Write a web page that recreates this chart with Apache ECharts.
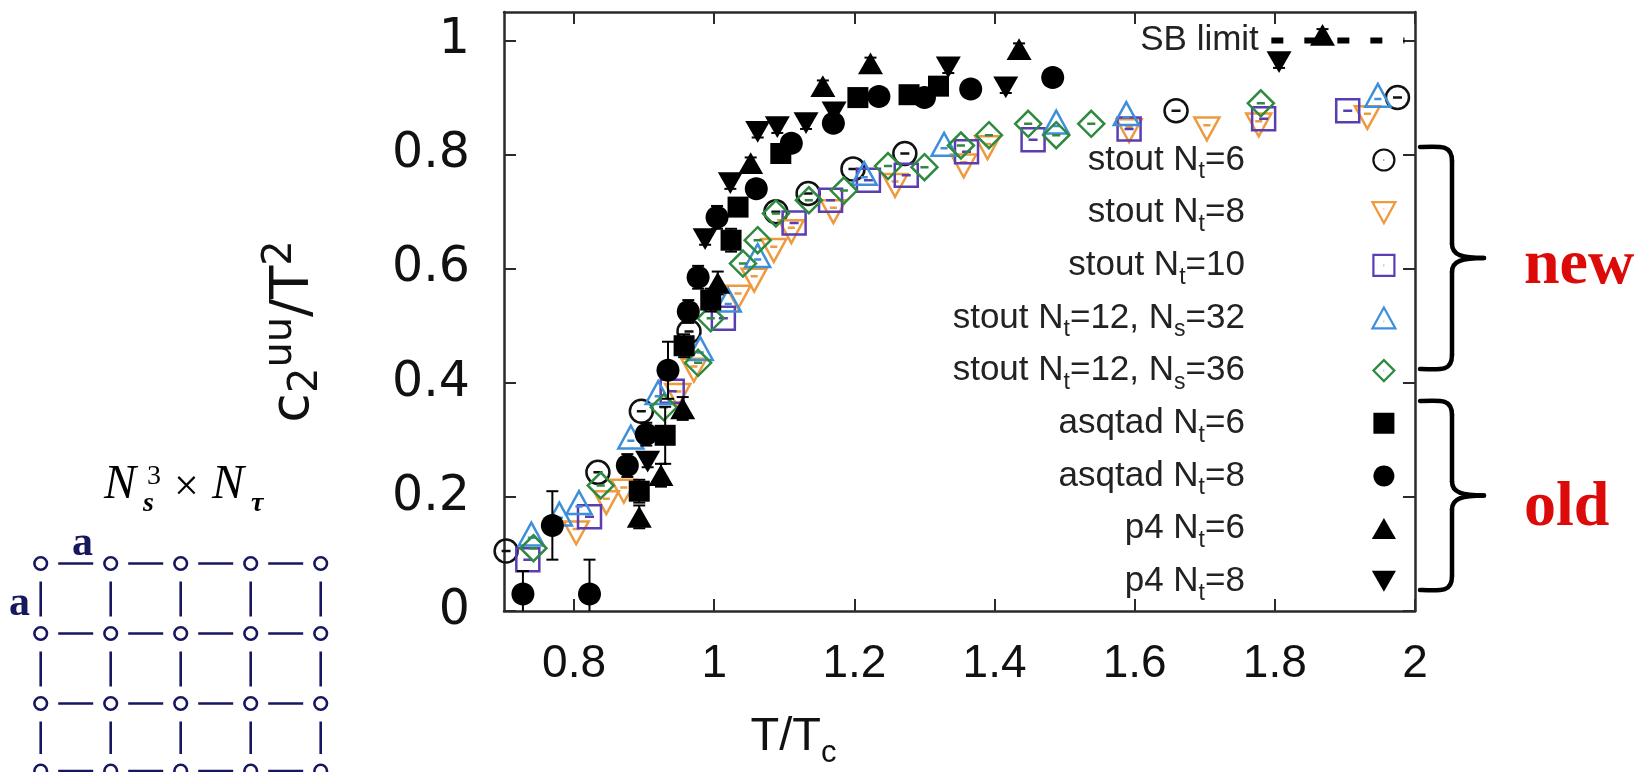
<!DOCTYPE html>
<html>
<head>
<meta charset="utf-8">
<script src="https://cdn.jsdelivr.net/npm/echarts@6/dist/echarts.min.js"></script>
<style>
html,body{margin:0;padding:0;background:#fff;}
#chart{width:1643px;height:772px;}
</style>
</head>
<body>
<div id="chart"></div>
<script>
// ---------------- data ----------------
const xTickValues = [0.8, 1.0, 1.2, 1.4, 1.6, 1.8, 2.0];
const yTickValues = [0, 0.2, 0.4, 0.6, 0.8, 1.0];

const seriesNames = ['stout Nt=6', 'stout Nt=8', 'stout Nt=10', 'stout Nt=12, Ns=32', 'stout Nt=12, Ns=36',
                     'asqtad Nt=6', 'asqtad Nt=8', 'p4 Nt=6', 'p4 Nt=8'];

const stout6X  = [0.703, 0.834, 0.896, 0.964, 1.088, 1.134, 1.198, 1.272, 1.659, 1.975];
const stout6Y  = [0.105, 0.243, 0.350, 0.490, 0.700, 0.732, 0.775, 0.802, 0.877, 0.900];

const stout8X  = [0.803, 0.846, 0.871, 0.948, 0.971, 1.034, 1.057, 1.085, 1.110, 1.170, 1.258, 1.356, 1.390, 1.592, 1.703, 1.777, 1.932];
const stout8Y  = [0.137, 0.190, 0.210, 0.378, 0.422, 0.550, 0.580, 0.632, 0.665, 0.700, 0.746, 0.780, 0.812, 0.842, 0.845, 0.852, 0.865];

const stout10X = [0.734, 0.822, 0.940, 1.013, 1.114, 1.166, 1.220, 1.274, 1.360, 1.455, 1.592, 1.784, 1.904];
const stout10Y = [0.090, 0.165, 0.385, 0.513, 0.680, 0.720, 0.755, 0.764, 0.805, 0.826, 0.845, 0.863, 0.877];

const stout32X = [0.739, 0.779, 0.807, 0.881, 0.920, 0.980, 1.020, 1.062, 1.214, 1.328, 1.488, 1.588, 1.947];
const stout32Y = [0.135, 0.170, 0.190, 0.305, 0.383, 0.460, 0.545, 0.623, 0.767, 0.818, 0.857, 0.872, 0.904];

const stout36X = [0.742, 0.838, 0.928, 0.977, 0.995, 1.041, 1.062, 1.088, 1.135, 1.185, 1.248, 1.300, 1.352, 1.392, 1.448, 1.488, 1.538, 1.780];
const stout36Y = [0.110, 0.220, 0.357, 0.435, 0.513, 0.609, 0.650, 0.697, 0.720, 0.737, 0.780, 0.778, 0.816, 0.834, 0.854, 0.834, 0.854, 0.890];

const asqtad6X   = [0.893, 0.930, 0.957, 0.995, 1.024, 1.034, 1.095, 1.205, 1.278, 1.320];
const asqtad6Y   = [0.210, 0.308, 0.465, 0.545, 0.650, 0.708, 0.802, 0.900, 0.905, 0.920];
const asqtad6Err = [0.020, 0.050, 0.020, 0.020, 0.020, 0.010, 0.010, 0.010, 0.010, 0.010];

const asqtad8X   = [0.727, 0.769, 0.822, 0.876, 0.903, 0.934, 0.963, 0.977, 1.004, 1.060, 1.110, 1.170, 1.235, 1.300, 1.366, 1.483];
const asqtad8Y   = [0.030, 0.150, 0.030, 0.255, 0.310, 0.422, 0.525, 0.585, 0.690, 0.740, 0.820, 0.855, 0.902, 0.900, 0.915, 0.935];
const asqtad8Err = [0.040, 0.060, 0.060, 0.020, 0.020, 0.050, 0.020, 0.020, 0.020, 0.010, 0.010, 0.010, 0.010, 0.010, 0.010, 0.010];

const p4n6X   = [0.893, 0.924, 0.955, 1.005, 1.052, 1.155, 1.223, 1.435, 1.868];
const p4n6Y   = [0.165, 0.238, 0.355, 0.575, 0.785, 0.920, 0.960, 0.985, 1.010];
const p4n6Err = [0.020, 0.020, 0.020, 0.020, 0.010, 0.010, 0.010, 0.010, 0.010];

const p4n8X   = [0.905, 0.987, 1.023, 1.062, 1.090, 1.131, 1.171, 1.334, 1.416, 1.806];
const p4n8Y   = [0.262, 0.652, 0.750, 0.840, 0.848, 0.855, 0.874, 0.953, 0.918, 0.962];
const p4n8Err = [0.010, 0.010, 0.010, 0.010, 0.010, 0.010, 0.010, 0.010, 0.010, 0.010];

const sbX = [1.795, 1.985];
const sbY = [1.0, 1.0];

// ---------------- styling helpers ----------------
const FONT = 'Liberation Sans';
const WIDE = 'DejaVu Sans';
const AXIS_COLOR = '#2a2a2a';
const CIRC = 'M50,4C75.4,4 96,24.6 96,50C96,75.4 75.4,96 50,96C24.6,96 4,75.4 4,50C4,24.6 24.6,4 50,4Z';
const openShapes = {
  circle:  {shape: CIRC, bar: 'M32,50L68,50', dot: 'M49,50L51,50'},
  tdown:   {shape: 'M4,8L96,8L50,92Z', bar: 'M37,36L63,36', dot: 'M49,36L51,36'},
  square:  {shape: 'M4,4L96,4L96,96L4,96Z', bar: 'M32,50L68,50', dot: 'M49,50L51,50'},
  tup:     {shape: 'M50,8L96,92L4,92Z', bar: 'M37,64L63,64', dot: 'M49,64L51,64'},
  diamond: {shape: 'M50,2L98,50L50,98L2,50Z', bar: 'M35,50L65,50', dot: 'M49,50L51,50'}
};
const filledShapes = {
  circle: 'path://' + CIRC,
  square: 'path://M0,0L100,0L100,100L0,100Z',
  tup:    'path://M50,0L100,87L0,87Z',
  tdown:  'path://M0,0L100,0L50,87Z'
};

const seriesDefs = [
  {x: stout6X,  y: stout6Y,  open: 'circle',  color: '#111111', size: 23},
  {x: stout8X,  y: stout8Y,  open: 'tdown',   color: '#ee9a3e', size: 25},
  {x: stout10X, y: stout10Y, open: 'square',  color: '#5b3db3', size: 23},
  {x: stout32X, y: stout32Y, open: 'tup',     color: '#3d8fdc', size: 25},
  {x: stout36X, y: stout36Y, open: 'diamond', color: '#2e8a3e', size: 26},
  {x: asqtad6X, y: asqtad6Y, err: asqtad6Err, filled: 'square', size: 21},
  {x: asqtad8X, y: asqtad8Y, err: asqtad8Err, filled: 'circle', size: 23},
  {x: p4n6X,    y: p4n6Y,    err: p4n6Err,    filled: 'tup',    size: 25},
  {x: p4n8X,    y: p4n8Y,    err: p4n8Err,    filled: 'tdown',  size: 25}
];

function pts(xs, ys) { return xs.map((x, i) => [x, ys[i]]); }

function errorSeries(xs, ys, es) {
  return {
    type: 'custom', silent: true, clip: true, z: 4,
    data: xs.map((x, i) => [x, ys[i] - es[i], ys[i] + es[i]]),
    encode: {x: 0, y: [1, 2]},
    renderItem: function (params, api) {
      const x = api.value(0);
      const lo = api.coord([x, api.value(1)]);
      const hi = api.coord([x, api.value(2)]);
      const hw = 6;
      const st = {stroke: '#000', lineWidth: 2};
      return {type: 'group', children: [
        {type: 'line', shape: {x1: lo[0], y1: lo[1], x2: hi[0], y2: hi[1]}, style: st},
        {type: 'line', shape: {x1: lo[0] - hw, y1: lo[1], x2: lo[0] + hw, y2: lo[1]}, style: st},
        {type: 'line', shape: {x1: hi[0] - hw, y1: hi[1], x2: hi[0] + hw, y2: hi[1]}, style: st}
      ]};
    }
  };
}

const series = [];
const legendData = [];
seriesDefs.forEach((d, i) => {
  const name = seriesNames[i];
  if (d.open) {
    const s = openShapes[d.open];
    series.push({
      name: name, type: 'scatter', z: 3,
      data: pts(d.x, d.y),
      symbol: 'path://' + s.shape + s.bar,
      symbolKeepAspect: true,
      symbolSize: d.size,
      itemStyle: {color: 'rgba(0,0,0,0)', borderColor: d.color, borderWidth: 2.5, opacity: 1},
      emphasis: {disabled: true}
    });
    legendData.push({name: name, icon: 'path://' + s.shape + s.dot,
      itemStyle: {color: 'rgba(0,0,0,0)', borderColor: d.color, borderWidth: 2.2}});
  } else {
    if (d.err) series.push(errorSeries(d.x, d.y, d.err));
    series.push({
      name: name, type: 'scatter', z: 5,
      data: pts(d.x, d.y),
      symbol: filledShapes[d.filled],
      symbolKeepAspect: true,
      symbolSize: d.size,
      itemStyle: {color: '#000', borderWidth: 0, opacity: 1},
      emphasis: {disabled: true}
    });
    legendData.push({name: name, icon: filledShapes[d.filled],
      itemStyle: {color: '#000', borderWidth: 0}});
  }
});

// SB limit line
series.push({
  name: 'SB limit', type: 'line', z: 6,
  data: pts(sbX, sbY),
  showSymbol: true, symbol: 'circle', symbolSize: 1,
  itemStyle: {color: 'rgba(0,0,0,0)'},
  lineStyle: {color: '#000', width: 6, type: [12, 21], cap: 'butt'},
  label: {
    show: true, position: 'left', distance: 12,
    formatter: p => (p.dataIndex === 0 ? 'SB limit' : ''),
    fontFamily: FONT, fontSize: 35, color: '#222'
  },
  emphasis: {disabled: true}
});

// ---------------- decorations (lattice, braces) ----------------
const NAVY = '#17175f';
const latticeCols = [40.7, 110.7, 180.7, 250.7, 320.7];
const latticeRows = [563.5, 633.5, 703.5, 771];
const graphicEls = [];
latticeRows.forEach((cy, r) => {
  latticeCols.forEach((cx, c) => {
    if (c < latticeCols.length - 1) {
      graphicEls.push({type: 'line', shape: {x1: cx + 17.5, y1: cy, x2: latticeCols[c + 1] - 17.5, y2: cy},
        style: {stroke: NAVY, lineWidth: 2.6}});
    }
    if (r < latticeRows.length - 1) {
      graphicEls.push({type: 'line', shape: {x1: cx, y1: cy + 18, x2: cx, y2: latticeRows[r + 1] - 17},
        style: {stroke: NAVY, lineWidth: 2.6}});
    }
    graphicEls.push({type: 'circle', shape: {cx: cx, cy: cy, r: 6.3},
      style: {fill: '#fff', stroke: NAVY, lineWidth: 2.6}});
  });
});
const serifFont = '"Liberation Serif", "Times New Roman", serif';
function txt(text, x, y, font, fill, align) {
  return {type: 'text', x: x, y: y, style: {text: text, font: font, fill: fill || '#000', align: align || 'left', verticalAlign: 'middle'}};
}
graphicEls.push(txt('a', 72, 544, 'bold 42px ' + serifFont, NAVY));
graphicEls.push(txt('a', 9, 604, 'bold 42px ' + serifFont, NAVY));
graphicEls.push(txt('N', 104, 485, 'italic 48px ' + serifFont));
graphicEls.push(txt('3', 147, 477, '28px ' + serifFont));
graphicEls.push(txt('s', 143, 504, 'italic bold 28px ' + serifFont));
graphicEls.push(txt('\u00d7', 174, 488, '44px ' + serifFont));
graphicEls.push(txt('N', 212, 485, 'italic 48px ' + serifFont));
graphicEls.push(txt('\u03c4', 251, 504, 'italic bold 28px ' + serifFont));

function brace(x0, x1, xm, top, bot) {
  const mid = (top + bot) / 2;
  const st = {fill: 'none', stroke: '#000', lineWidth: 4.5, lineCap: 'round'};
  return [
    {type: 'bezierCurve', shape: {x1: x0, y1: top, cpx1: x0 + 22, cpy1: top - 1, cpx2: x1, cpy2: top - 2, x2: x1, y2: top + 14}, style: st},
    {type: 'line', shape: {x1: x1, y1: top + 14, x2: x1, y2: mid - 14}, style: st},
    {type: 'bezierCurve', shape: {x1: x1, y1: mid - 14, cpx1: x1, cpy1: mid - 3, cpx2: x1 + 10, cpy2: mid, x2: xm, y2: mid}, style: st},
    {type: 'bezierCurve', shape: {x1: xm, y1: mid, cpx1: x1 + 10, cpy1: mid, cpx2: x1, cpy2: mid + 3, x2: x1, y2: mid + 14}, style: st},
    {type: 'line', shape: {x1: x1, y1: mid + 14, x2: x1, y2: bot - 14}, style: st},
    {type: 'bezierCurve', shape: {x1: x1, y1: bot - 14, cpx1: x1, cpy1: bot + 2, cpx2: x0 + 22, cpy2: bot + 1, x2: x0, y2: bot}, style: st}
  ];
}
graphicEls.push(...brace(1420, 1452, 1484, 147, 369));
graphicEls.push(...brace(1420, 1452, 1484, 401, 590));
graphicEls.push(txt('new', 1524, 266, 'bold 64px ' + serifFont, '#dd0a0a'));
graphicEls.push(txt('old', 1524, 508, 'bold 64px ' + serifFont, '#dd0a0a'));

// ---------------- chart ----------------
const chart = echarts.init(document.getElementById('chart'), null, {renderer: 'canvas'});
const tickStyle = {show: true, inside: true, length: 12, lineStyle: {color: AXIS_COLOR, width: 2}};
const lineStyle = {show: true, onZero: false, lineStyle: {color: AXIS_COLOR, width: 2.5}};

chart.setOption({
  animation: false,
  backgroundColor: '#fff',
  textStyle: {fontFamily: FONT},
  grid: {left: 504, top: 12, right: 228, bottom: 161, containLabel: false, outerBoundsMode: 'none'},
  xAxis: [{
    type: 'value', min: 0.7, max: 2.0, position: 'bottom',
    axisLine: lineStyle,
    axisTick: Object.assign({customValues: xTickValues}, tickStyle),
    axisLabel: {customValues: xTickValues, margin: 30, fontSize: 46, color: '#111', fontFamily: FONT,
                formatter: v => String(+v.toFixed(1))},
    splitLine: {show: false},
    name: '{m|T/T}{sub|c}', nameLocation: 'middle', nameGap: 94,
    nameTextStyle: {
      padding: [0, 332, 0, 0],
      rich: {
        m: {fontSize: 47, lineHeight: 64, fontFamily: FONT, color: '#111'},
        sub: {fontSize: 31, lineHeight: 31, verticalAlign: 'bottom', fontFamily: FONT, color: '#111'}
      }
    }
  }, {
    type: 'value', min: 0.7, max: 2.0, position: 'top',
    axisLine: lineStyle,
    axisTick: Object.assign({customValues: xTickValues}, tickStyle),
    axisLabel: {show: false},
    splitLine: {show: false}
  }],
  yAxis: [{
    type: 'value', min: 0, max: 1.05, position: 'left',
    axisLine: lineStyle,
    axisTick: Object.assign({customValues: yTickValues}, tickStyle),
    axisLabel: {customValues: yTickValues, margin: 34, fontSize: 49, color: '#111', fontFamily: WIDE,
                formatter: v => String(+v.toFixed(1))},
    splitLine: {show: false},
    name: '{m|c}{sub|2}{sup|uu}{m|/T}{sup|2}', nameLocation: 'middle', nameGap: 177, nameRotate: 90,
    nameTextStyle: {
      padding: [0, 40, 0, 0],
      rich: {
        m: {fontSize: 54, lineHeight: 66, fontFamily: WIDE, color: '#111'},
        sub: {fontSize: 40, lineHeight: 40, verticalAlign: 'bottom', fontFamily: WIDE, color: '#111'},
        sup: {fontSize: 40, lineHeight: 40, verticalAlign: 'top', fontFamily: WIDE, color: '#111'}
      }
    }
  }, {
    type: 'value', min: 0, max: 1.05, position: 'right',
    axisLine: lineStyle,
    axisTick: Object.assign({customValues: yTickValues}, tickStyle),
    axisLabel: {show: false},
    splitLine: {show: false}
  }],
  legend: {
    orient: 'vertical', align: 'right', right: 246.5, top: 136.5, padding: 0,
    itemWidth: 268, itemHeight: 21, itemGap: 5.65, symbolKeepAspect: true,
    selectedMode: false,
    data: legendData,
    formatter: n => n.replace(/N([ts])/g, 'N{sub|$1}'),
    textStyle: {
      fontSize: 35, lineHeight: 47, color: '#222', fontFamily: FONT,
      rich: {
        sub: {fontSize: 23, lineHeight: 23, verticalAlign: 'bottom', color: '#222', fontFamily: FONT}
      }
    }
  },
  graphic: {elements: graphicEls},
  series: series
});
</script>
</body>
</html>
